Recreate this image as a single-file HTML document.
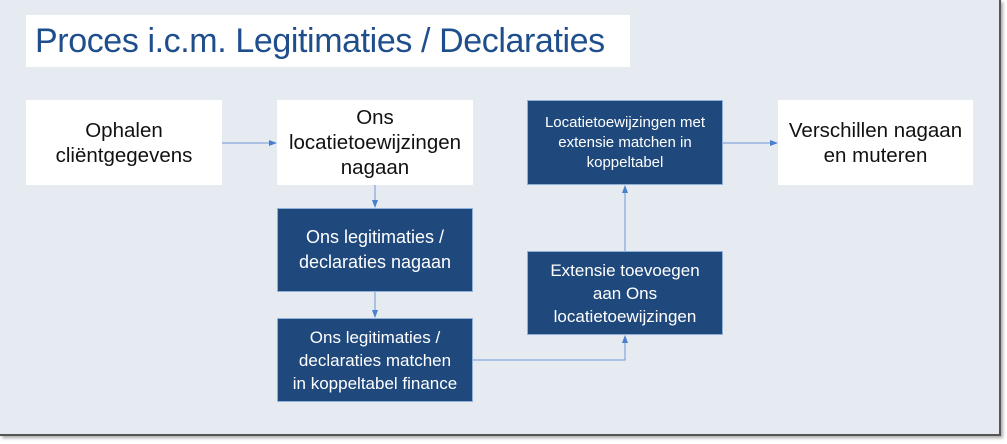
<!DOCTYPE html>
<html><head><style>
body{margin:0;width:1007px;height:444px;background:#fff;position:relative;overflow:hidden;font-family:"Liberation Sans","DejaVu Sans",sans-serif}
#frame{position:absolute;left:0;top:0;width:999px;height:434px;background:#e6ebf1;border-right:2px solid #555;border-bottom:2px solid #555;box-shadow:2px 2px 3px #aaa}
.b{position:absolute;display:flex;align-items:center;justify-content:center;text-align:center;box-sizing:border-box}
.w{background:#fff;color:#111;font-size:20.5px;line-height:25px}
.d{background:#1f497d;color:#fff;font-size:18px;line-height:23px;border:1px solid #8fb0d8}
.s{font-size:15px;line-height:20px}
svg{position:absolute;left:0;top:0}
</style></head><body>
<div id="frame"></div>
<div class="b" style="left:26px;top:15px;width:604px;height:52px;background:#fff;justify-content:flex-start;padding-left:9px;color:#1f4e8c;font-size:34px;letter-spacing:-0.4px">Proces i.c.m. Legitimaties / Declaraties</div>
<div class="b w" style="left:26px;top:100px;width:196px;height:85px">Ophalen<br>cliëntgegevens</div>
<div class="b w" style="left:277px;top:100px;width:196px;height:85px">Ons<br>locatietoewijzingen<br>nagaan</div>
<div class="b d" style="left:277px;top:208px;width:196px;height:84px;line-height:25px">Ons legitimaties /<br>declaraties nagaan</div>
<div class="b d" style="left:277px;top:318px;width:196px;height:84px;font-size:17px;line-height:23px">Ons legitimaties /<br>declaraties matchen<br>in koppeltabel finance</div>
<div class="b d" style="left:527px;top:251px;width:196px;height:84px;font-size:17px;line-height:23px">Extensie toevoegen<br>aan Ons<br>locatietoewijzingen</div>
<div class="b d s" style="left:527px;top:100px;width:196px;height:85px">Locatietoewijzingen met<br>extensie matchen in<br>koppeltabel</div>
<div class="b w" style="left:778px;top:100px;width:195px;height:85px">Verschillen nagaan<br>en muteren</div>
<svg width="1007" height="444">
<defs><marker id="a" markerWidth="8" markerHeight="6" refX="7" refY="3" orient="auto"><path d="M0,0L8,3L0,6z" fill="#4a7fd0"/></marker></defs>
<g stroke="#6f97d8" stroke-width="1" fill="none" marker-end="url(#a)">
<path d="M222,143H276"/>
<path d="M375,185V207"/>
<path d="M375,292V317"/>
<path d="M473,360H625V336"/>
<path d="M625,251V186"/>
<path d="M723,143H777"/>
</g></svg>
</body></html>
